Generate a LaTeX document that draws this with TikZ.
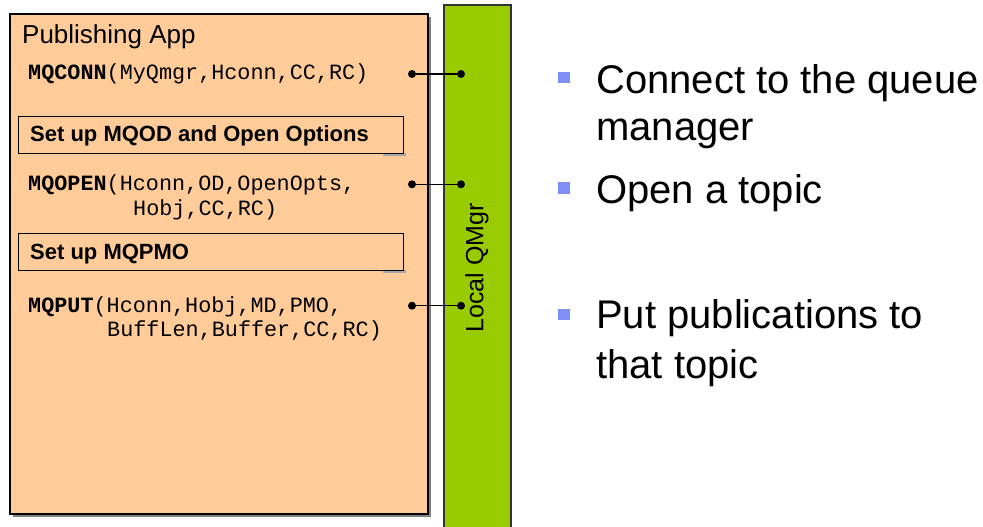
\documentclass[tikz,border=0pt]{standalone}
\usepackage{fontspec}
\setmainfont{Liberation Sans}
\newfontfamily\codefont{Liberation Mono}
\definecolor{peach}{HTML}{FFCC99}
\definecolor{qmgrgreen}{HTML}{99CC00}
\definecolor{bulletblue}{HTML}{7F8FF5}
\definecolor{shadowgray}{HTML}{808080}

\begin{document}
\begin{tikzpicture}[x=1pt,y=-1pt,
  code/.style={anchor=base west, inner sep=0pt, font=\codefont\fontsize{21.8}{24}\selectfont},
  plug/.style={circle, fill=black, inner sep=0pt, minimum size=8pt},
  stepbox/.style={draw=black, line width=1pt, anchor=north west, minimum width=385pt, minimum height=37pt, inner sep=0pt},
  steptext/.style={anchor=base west, inner sep=0pt, font=\bfseries\fontsize{22}{24}\selectfont},
  bullet/.style={fill=bulletblue, minimum size=11.5pt, inner sep=0pt},
  point/.style={anchor=base west, inner sep=0pt, font=\fontsize{40}{47}\selectfont},
  wire/.style={line width=1.2pt}
]
\useasboundingbox (0,0) rectangle (983,527);

% application box with drop shadow
\fill[shadowgray] (13,17) rectangle (431,517);
\draw[fill=peach, line width=1.2pt] (10,14) rectangle (428,514);
\node[anchor=base west, inner sep=0pt, font=\fontsize{26}{30}\selectfont] (title) at (22,44) {Publishing App};

% queue manager bar
\fill[qmgrgreen] (444,5) rectangle (511,530);
\draw[line width=1.5pt, black!80] (444,530) -- (444,5) -- (511,5) -- (511,530);
\node[rotate=90, inner sep=0pt, font=\fontsize{25}{30}\selectfont] (qmgr) at (477,268) {Local QMgr};

% API calls
\node[code] (conn) at (28,80) {\textbf{MQCONN}(MyQmgr,Hconn,CC,RC)};
\node[code] (open) at (28,190.7) {\textbf{MQOPEN}(Hconn,OD,OpenOpts,};
\node[code] (open2) at (133,215) {Hobj,CC,RC)};
\node[code] (put) at (28,312.7) {\textbf{MQPUT}(Hconn,Hobj,MD,PMO,};
\node[code] (put2) at (107,336.7) {BuffLen,Buffer,CC,RC)};

% set-up steps
\fill[shadowgray!70] (383,153) rectangle (406,156);
\node[stepbox] (od) at (18,116) {};
\node[steptext] (odtext) at (30,141.7) {Set up MQOD and Open Options};
\fill[shadowgray!70] (383,270) rectangle (406,273);
\node[stepbox] (pmo) at (18,233) {};
\node[steptext] (pmotext) at (30,259.3) {Set up MQPMO};

% links from calls to the queue manager
\node[plug] (c1) at (412,74) {};
\node[plug] (q1) at (461,74) {};
\node[plug] (c2) at (412,184.3) {};
\node[plug] (q2) at (461,184.3) {};
\node[plug] (c3) at (412,305.7) {};
\node[plug] (q3) at (461,305.7) {};
\draw[wire] (c1) -- (q1);
\draw[wire] (c2) -- (q2);
\draw[wire] (c3) -- (q3);

% explanation bullets
\node[bullet] (b1) at (564,77.5) {};
\node[point] (p1a) at (596,93) {Connect to the queue};
\node[point] (p1b) at (596,140) {manager};
\node[bullet] (b2) at (564,188) {};
\node[point] (p2) at (596,203) {Open a topic};
\node[bullet] (b3) at (564,314.5) {};
\node[point] (p3a) at (596,328) {Put publications to};
\node[point] (p3b) at (596,378) {that topic};
\end{tikzpicture}
\end{document}
